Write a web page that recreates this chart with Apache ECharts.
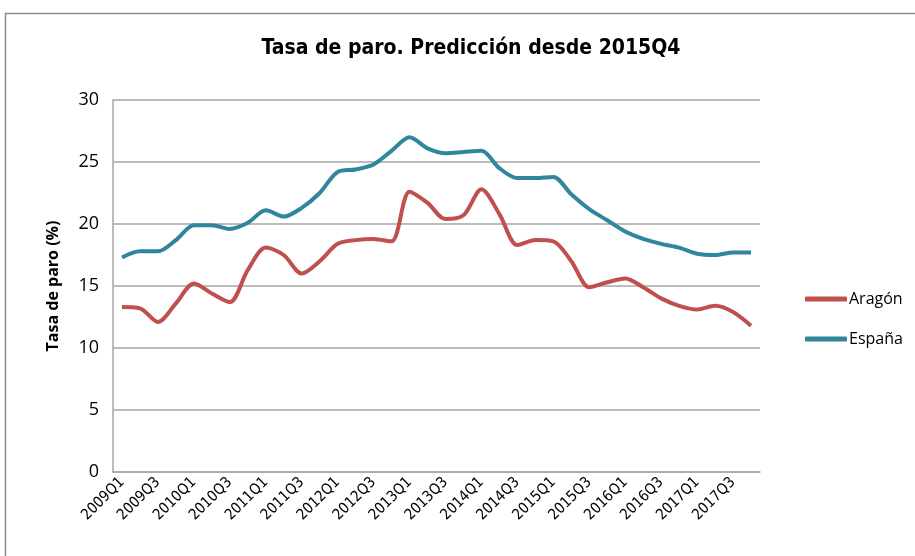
<!DOCTYPE html>
<html>
<head>
<meta charset="utf-8">
<script src="https://cdn.jsdelivr.net/npm/echarts@6/dist/echarts.min.js"></script>
<style>
  html, body { margin: 0; padding: 0; background: #fff; }
  #chart { width: 915px; height: 556px; }
</style>
</head>
<body>
<div id="chart"></div>
<script>
// quarters 2009Q1 .. 2017Q4
var quarters = [
  "2009Q1", "2009Q2", "2009Q3", "2009Q4",
  "2010Q1", "2010Q2", "2010Q3", "2010Q4",
  "2011Q1", "2011Q2", "2011Q3", "2011Q4",
  "2012Q1", "2012Q2", "2012Q3", "2012Q4",
  "2013Q1", "2013Q2", "2013Q3", "2013Q4",
  "2014Q1", "2014Q2", "2014Q3", "2014Q4",
  "2015Q1", "2015Q2", "2015Q3", "2015Q4",
  "2016Q1", "2016Q2", "2016Q3", "2016Q4",
  "2017Q1", "2017Q2", "2017Q3", "2017Q4"
];

var aragon = [
  13.3, 13.2, 12.1, 13.6, 15.2, 14.4, 13.7, 16.3,
  18.1, 17.5, 16.0, 17.0, 18.4, 18.7, 18.8, 18.6,
  22.6, 21.7, 20.4, 20.7, 22.8, 20.8, 18.3, 18.7,
  18.6, 17.0, 14.9, 15.3, 15.6, 14.9, 14.0, 13.4,
  13.1, 13.4, 12.9, 11.8
];

var espana = [
  17.3, 17.8, 17.8, 18.7, 19.9, 19.9, 19.6, 20.1,
  21.1, 20.6, 21.3, 22.5, 24.2, 24.4, 24.8, 25.9,
  27.0, 26.1, 25.7, 25.8, 25.9, 24.5, 23.7, 23.7,
  23.8, 22.4, 21.2, 20.3, 19.4, 18.8, 18.4, 18.1,
  17.6, 17.5, 17.7, 17.7
];

var yTicks = { min: 0, max: 30, step: 5 };

var font = "'Open Sans', 'DejaVu Sans', sans-serif";

var chart = echarts.init(document.getElementById("chart"));
chart.setOption({
  animation: false,
  backgroundColor: "#fff",
  graphic: [{
    type: "rect",
    shape: { x: 5.5, y: 13.5, width: 940, height: 600 },
    style: { fill: "none", stroke: "#8c8c8c", lineWidth: 1.5 },
    silent: true
  }],
  title: {
    text: "Tasa de paro. Predicción desde 2015Q4",
    left: 466,
    textAlign: "center",
    top: 33,
    textStyle: { fontFamily: "'DejaVu Sans Condensed', 'DejaVu Sans', sans-serif", fontSize: 21, fontWeight: "bold", color: "#000" }
  },
  legend: {
    orient: "vertical",
    left: 800,
    top: 286,
    itemGap: 24,
    itemWidth: 42,
    itemHeight: 5,
    icon: "roundRect",
    textStyle: { fontFamily: font, fontSize: 16, color: "#000", padding: [0, 0, 0, -3] },
    data: ["Aragón", "España"]
  },
  grid: { left: 113, top: 100, width: 647, height: 372 },
  xAxis: {
    type: "category",
    data: quarters,
    boundaryGap: true,
    axisLine: { lineStyle: { color: "#a6a6a6", width: 1.5 } },
    axisTick: { show: false },
    axisLabel: {
      interval: 1,
      rotate: 45,
      margin: 8,
      color: "#000",
      fontFamily: "'DejaVu Sans Condensed', 'Open Sans', sans-serif",
      fontSize: 15
    }
  },
  yAxis: {
    type: "value",
    min: yTicks.min,
    max: yTicks.max,
    interval: yTicks.step,
    name: "Tasa de paro (%)",
    nameLocation: "middle",
    nameGap: 52,
    nameTextStyle: { fontFamily: font, fontSize: 16, fontWeight: "bold", color: "#000" },
    axisLine: { show: true, lineStyle: { color: "#a6a6a6", width: 1.5 } },
    axisTick: { show: false },
    axisLabel: { color: "#000", fontFamily: font, fontSize: 18, margin: 14 },
    splitLine: { lineStyle: { color: "#a6a6a6", width: 1.5 } }
  },
  series: [
    {
      name: "Aragón",
      type: "line",
      data: aragon,
      smooth: 0.3,
      symbol: "none",
      color: "#c0504d",
      lineStyle: { width: 4, color: "#c0504d" }
    },
    {
      name: "España",
      type: "line",
      data: espana,
      smooth: 0.3,
      symbol: "none",
      color: "#31859c",
      lineStyle: { width: 4, color: "#31859c" }
    }
  ]
});
</script>
</body>
</html>
